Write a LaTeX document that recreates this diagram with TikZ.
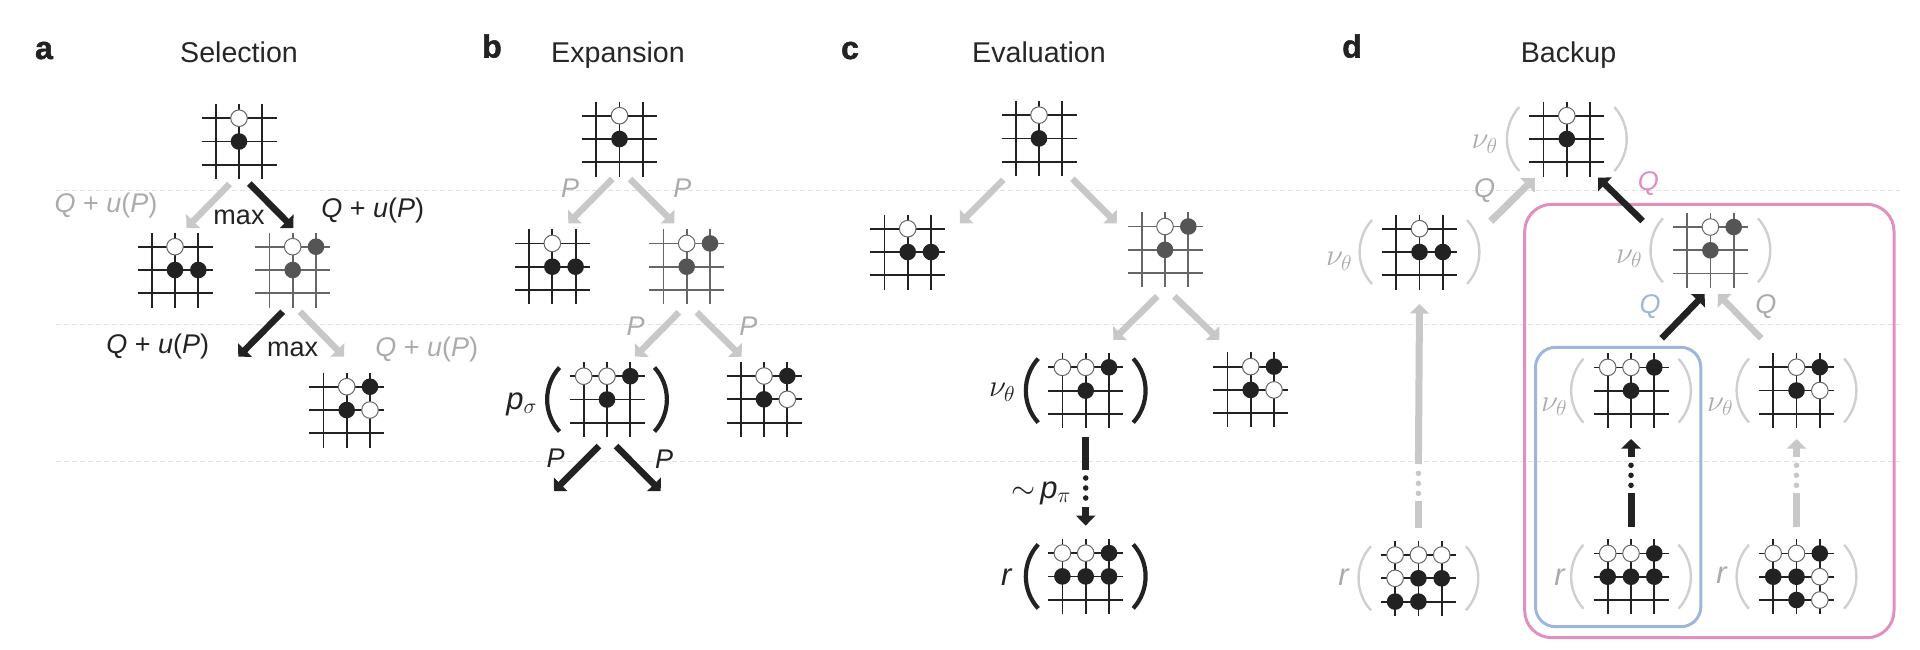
\documentclass[tikz,border=0pt]{standalone}
\usepackage{fix-cm}
\usepackage{fontspec}
\setmainfont{Liberation Sans}
\newfontfamily\panelfont[UprightFont={* Bold},UprightFeatures={FakeBold=1.6}]{Liberation Sans}
\usepackage{tikz}
\usetikzlibrary{arrows.meta,calc}

\definecolor{stonek}{HTML}{222222}
\definecolor{stoneg}{HTML}{555555}
\definecolor{fadetext}{HTML}{ABABAB}
\definecolor{fadearrow}{HTML}{C8C8C8}
\definecolor{fadeparen}{HTML}{CFCFCF}
\definecolor{rowdash}{HTML}{E2E2E2}
\definecolor{pinkbox}{HTML}{E08FBF}
\definecolor{bluebox}{HTML}{9FB6DB}

\tikzset{
  boardbox/.style={inner sep=0pt,minimum size=75pt},
  gridk/.style={line width=1.8pt,stonek},
  gridg/.style={line width=1.7pt,black!60},
  wstone/.style={fill=white,draw=black!60,line width=1pt},
  kstone/.style={fill=stonek},
  gstone/.style={fill=stoneg},
  mainarrow/.style={line width=6.5pt,stonek,-{Triangle[width=19pt,length=9.5pt]}},
  fadearr/.style={line width=6.5pt,fadearrow,-{Triangle[width=19pt,length=9.5pt]}},
  mainstem/.style={line width=7pt,stonek},
  fadestem/.style={line width=7pt,fadearrow},
  bigparen/.style={line width=4.2pt,stonek},
  thinparen/.style={line width=2.4pt,fadeparen},
  lbl/.style={inner sep=0pt,font=\fontsize{27}{30}\selectfont,text=stonek},
  sym/.style={inner sep=0pt,font=\fontsize{31}{34}\selectfont,text=stonek},
  head/.style={inner sep=0pt,anchor=base,font=\fontsize{28.6}{32}\selectfont,text=black!85},
  panel/.style={inner sep=0pt,anchor=base,font=\fontsize{32}{36}\panelfont,text=stonek},
  fade/.style={lbl,text=fadetext},
  fadesym/.style={sym,text=fadetext}
}

% #1 grid style, #2 name, #3 position, #4 macro with stones col/row/kind
\newcommand{\goboard}[4][gridk]{
  \node[boardbox] (#2) at (#3) {};
  \begin{scope}[shift={(#3)}]
    \foreach \lin in {-23.3,0,23.3} {
      \draw[#1] (-37.5,\lin) -- (37.5,\lin);
      \draw[#1] (\lin,-37.5) -- (\lin,37.5);
    }
    \foreach \col/\row/\kind in #4
      \path[\kind] (\col*23.3,\row*23.3) circle[radius=8.3];
  \end{scope}
}
% #1 paren style, #2 board name
\newcommand{\boardparens}[2]{
  \begin{scope}[shift={(#2)}]
    \draw[#1] (-47.5,-32) .. controls (-64,-14) and (-64,14) .. (-47.5,32);
    \draw[#1] (47.5,-32) .. controls (64,-14) and (64,14) .. (47.5,32);
  \end{scope}
}
% dotted stretch of a long arrow: #1 colour, #2 x, #3 first y
\newcommand{\stemdots}[3]{
  \foreach \dotn in {0,1,2}
    \fill[#1] (#2,#3+\dotn*10) circle[radius=2.8];
}
\newcommand{\qup}{\textit{Q} + \textit{u}(\textit{P})}
\newcommand{\stonesroot}{0/-1/wstone,0/0/kstone}
\newcommand{\stonesleft}{0/-1/wstone,0/0/kstone,1/0/kstone}
\newcommand{\stonesright}{0/-1/wstone,1/-1/gstone,0/0/gstone}
\newcommand{\stonesbl}{-1/-1/wstone,0/-1/wstone,1/-1/kstone,0/0/kstone}
\newcommand{\stonesbr}{0/-1/wstone,1/-1/kstone,0/0/kstone,1/0/wstone}
\newcommand{\stonesend}{-1/-1/wstone,0/-1/wstone,1/-1/kstone,-1/0/kstone,0/0/kstone,1/0/kstone}
\newcommand{\stonesendl}{-1/-1/wstone,0/-1/wstone,1/-1/wstone,-1/0/wstone,0/0/kstone,1/0/kstone,-1/1/kstone,0/1/kstone}
\newcommand{\stonesendr}{-1/-1/wstone,0/-1/wstone,1/-1/kstone,-1/0/kstone,0/0/kstone,1/0/wstone,0/1/kstone,1/1/wstone}

\begin{document}
\begin{tikzpicture}[x=1pt,y=-1pt]
    \useasboundingbox (0,0) rectangle (1920,649);
    \foreach \y in {190,324,461}
        \draw[rowdash,line width=1pt,dash pattern=on 5pt off 3pt] (56,\y) -- (1900,\y);

    % Selection
    \node[panel] (pa) at (44,59) {a};
    \node[head] (ha) at (239,62.5) {Selection};
    \goboard{a1}{239,141.5}{\stonesroot}
    \goboard{a2}{175,270}{\stonesleft}
    \goboard[gridg]{a3}{292.7,270}{\stonesright}
    \goboard{a4}{346.7,410}{\stonesbr}
    \coordinate (a5) at (238.3,356.7);
    \draw[fadearr] ($(a1)+(-9.5,42.5)$) -- ($(a2)+(11.5,-42)$);
    \draw[mainarrow] ($(a1)+(10.3,42)$) -- ($(a3)+(0.6,-42)$);
    \draw[mainarrow] ($(a3)+(-10,41.7)$) -- (a5);
    \draw[fadearr] ($(a3)+(7.3,41.7)$) -- ($(a4)+(-2.7,-53.3)$);
    \node[fade] (qa1) at (106,206) {\qup};
    \node[lbl] (qa2) at (372.7,210.5) {\qup};
    \node[lbl] (qa3) at (157.7,347) {\qup};
    \node[fade] (qa4) at (426.7,349.5) {\qup};
    \node[lbl] (ma1) at (239,217) {max};
    \node[lbl] (ma2) at (292.7,349.5) {max};

    % Expansion
    \node[panel] (pb) at (492,57.5) {b};
    \node[head] (hb) at (618,62.5) {Expansion};
    \goboard{b1}{619.5,139}{\stonesroot}
    \goboard{b2}{552.3,266.7}{\stonesleft}
    \goboard[gridg]{b3}{686.7,266.7}{\stonesright}
    \goboard{b4}{607,399.5}{\stonesbl}
    \goboard{b5}{764,399.3}{\stonesbr}
    \boardparens{bigparen}{b4}
    \coordinate (b6) at (554,491);
    \coordinate (b7) at (660.7,491);
    \draw[fadearr] ($(b1)+(-7.2,40)$) -- ($(b2)+(16,-43.4)$);
    \draw[fadearr] ($(b1)+(10.5,40)$) -- ($(b3)+(-12.4,-43.4)$);
    \draw[fadearr] ($(b3)+(-7.7,45.6)$) -- ($(b4)+(28,-42.8)$);
    \draw[fadearr] ($(b3)+(10,45.6)$) -- ($(b5)+(-22.3,-42.6)$);
    \draw[mainarrow] ($(b4)+(-8,46.5)$) -- (b6);
    \draw[mainarrow] ($(b4)+(9,46.5)$) -- (b7);
    \node[fade] (pb1) at (570,188) {\textit{P}};
    \node[fade] (pb2) at (682.3,188) {\textit{P}};
    \node[fade] (pb3) at (635.7,326) {\textit{P}};
    \node[fade] (pb4) at (748.3,326) {\textit{P}};
    \node[lbl] (pb5) at (555.7,458) {\textit{P}};
    \node[lbl] (pb6) at (664,459) {\textit{P}};
    \node[sym] (sb4) at (521.7,404) {\textit{p}$_\sigma$};

    % Evaluation
    \node[panel] (pc) at (850,59) {c};
    \node[head] (hc) at (1039,62.5) {Evaluation};
    \goboard{c1}{1039,138.4}{\stonesroot}
    \goboard{c2}{907.7,252}{\stonesleft}
    \goboard[gridg]{c3}{1165,249.8}{\stonesright}
    \goboard{c4}{1085.7,390.6}{\stonesbl}
    \goboard{c5}{1250.7,389.9}{\stonesbr}
    \goboard{c6}{1085.7,576.4}{\stonesend}
    \boardparens{bigparen}{c4}
    \boardparens{bigparen}{c6}
    \draw[fadearr] ($(c1)+(-35.7,41.4)$) -- ($(c2)+(52.3,-28.7)$);
    \draw[fadearr] ($(c1)+(33.3,40.3)$) -- ($(c3)+(-48.3,-26.5)$);
    \draw[fadearr] ($(c3)+(-7.7,46.5)$) -- ($(c4)+(27.6,-50.8)$);
    \draw[fadearr] ($(c3)+(9.3,46.5)$) -- ($(c5)+(-31.4,-50.1)$);
    \draw[mainstem] ($(c4)+(0,46.8)$) -- ($(c4)+(0,79.4)$);
    \stemdots{stonek}{1085.7}{478}
    \draw[mainarrow,line width=7pt,-{Triangle[width=19pt,length=10pt]}] ($(c6)+(0,-69)$) -- ($(c6)+(0,-50.8)$);
    \node[sym] (pc4) at (1041,493) {$\sim$\,\textit{p}$_\pi$};
    \node[sym] (vc4) at (1002,392) {$\nu_\theta$};
    \node[sym] (rc6) at (1006.7,577) {\textit{r}};

    % Backup
    \node[panel] (pd) at (1352,57.5) {d};
    \node[head] (hd) at (1568.6,62.5) {Backup};
    \draw[pinkbox,line width=3pt,rounded corners=27pt] (1524.7,204.3) rectangle (1894,637.7);
    \draw[bluebox,line width=3pt,rounded corners=20pt] (1535.5,347.3) rectangle (1700.8,626.7);
    \goboard{d1}{1566.8,139}{\stonesroot}
    \goboard{d2}{1419.5,252}{\stonesleft}
    \goboard[gridg]{d3}{1710.4,250.3}{\stonesright}
    \goboard{d4}{1631,390.7}{\stonesbl}
    \goboard{d5}{1796.5,390.5}{\stonesbr}
    \goboard{d6}{1418.4,578.3}{\stonesendl}
    \goboard{d7}{1631,576.7}{\stonesend}
    \goboard{d8}{1796.5,576.7}{\stonesendr}
    \foreach \brd in {d1,d2,d3,d4,d5,d6,d7,d8}
        \boardparens{thinparen}{\brd}
    \draw[fadearr] ($(d2)+(71.5,-31)$) -- ($(d1)+(-32.5,39.3)$);
    \draw[mainarrow] ($(d3)+(-67.8,-29.3)$) -- ($(d1)+(31.4,38.7)$);
    \draw[mainarrow] ($(d4)+(30.7,-52.4)$) -- ($(d3)+(-5.8,43.7)$);
    \draw[fadearr] ($(d5)+(-35.3,-52.2)$) -- ($(d3)+(7.6,43.7)$);
    \draw[fadestem] ($(d6)+(0,-50.6)$) -- ($(d6)+(0,-77.6)$);
    \stemdots{fadearrow}{1418.4}{473.3}
    \draw[fadearr,line width=7pt] ($(d6)+(0,-114.3)$) -- ($(d2)+(0,52)$);
    \draw[mainstem] ($(d7)+(0,-50)$) -- ($(d7)+(0,-83.4)$);
    \stemdots{stonek}{1631}{465.3}
    \draw[mainarrow,line width=7pt] ($(d7)+(0,-120)$) -- ($(d4)+(0,48.3)$);
    \draw[fadestem] ($(d8)+(0,-50)$) -- ($(d8)+(0,-83.4)$);
    \stemdots{fadearrow}{1796.5}{465.3}
    \draw[fadearr,line width=7pt] ($(d8)+(0,-120)$) -- ($(d5)+(0,48.5)$);
    \node[fadesym] (vd1) at (1484.6,144) {$\nu_\theta$};
    \node[fadesym] (vd2) at (1339,261) {$\nu_\theta$};
    \node[fadesym] (vd3) at (1629,258.7) {$\nu_\theta$};
    \node[fadesym] (vd4) at (1554,406.7) {$\nu_\theta$};
    \node[fadesym] (vd5) at (1720,406.7) {$\nu_\theta$};
    \node[fadesym] (rd6) at (1344,577) {\textit{r}};
    \node[fadesym] (rd7) at (1560,577) {\textit{r}};
    \node[fadesym] (rd8) at (1722,575) {\textit{r}};
    \node[fade] (qd1) at (1484.6,190.7) {\textit{Q}};
    \node[lbl,text=pinkbox] (qd2) at (1648.4,184) {\textit{Q}};
    \node[lbl,text=bluebox] (qd3) at (1650,306.7) {\textit{Q}};
    \node[fade] (qd4) at (1765.8,306.7) {\textit{Q}};
\end{tikzpicture}
\end{document}
